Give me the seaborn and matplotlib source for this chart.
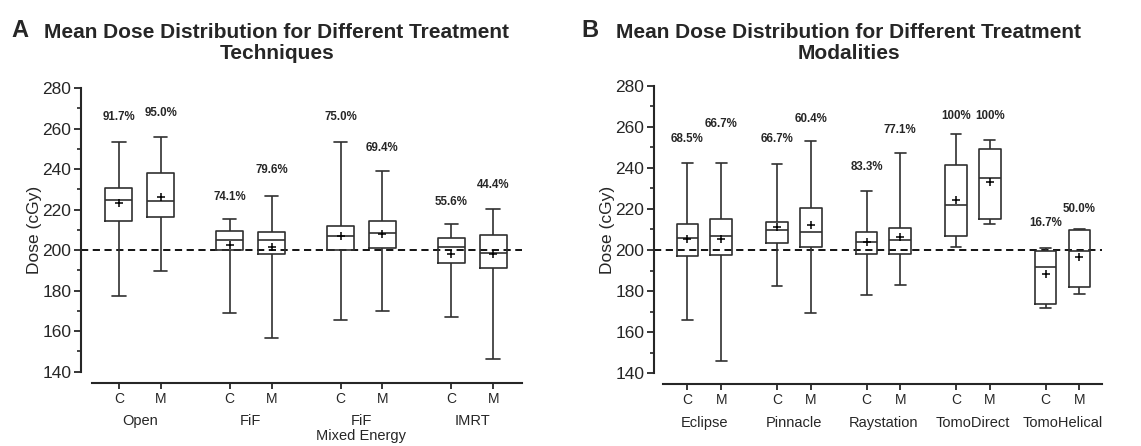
import numpy as np
import pandas as pd
import matplotlib
matplotlib.use("Agg")
import matplotlib.pyplot as plt
import seaborn as sns
from matplotlib.ticker import MultipleLocator

# ---------------- data ----------------
members = ["C", "M"]

a_groups = ["Open", "FiF", "FiF\nMixed Energy", "IMRT"]
a_min = [177.4, 189.6, 169.2, 156.6, 165.7, 169.8, 167.2, 146.1]
a_q1 = [214.2, 216.3, 200.0, 198.2, 200.0, 200.8, 193.7, 191.1]
a_med = [224.9, 224.1, 205.0, 204.9, 206.8, 208.2, 201.5, 198.8]
a_q3 = [230.7, 238.2, 209.5, 209.0, 211.9, 214.3, 205.9, 207.6]
a_max = [253.4, 256.0, 215.2, 226.9, 253.4, 238.9, 212.7, 220.4]
a_mean = [223.1, 226.1, 202.6, 201.7, 207.1, 208.0, 198.0, 198.1]
a_pct = ["91.7%", "95.0%", "74.1%", "79.6%", "75.0%", "69.4%", "55.6%", "44.4%"]
a_label_y = [265.9, 267.6, 226.4, 239.6, 265.6, 250.3, 223.9, 232.0]

b_groups = ["Eclipse", "Pinnacle", "Raystation", "TomoDirect", "TomoHelical"]
b_min = [166.0, 146.2, 182.5, 169.5, 178.0, 182.8, 201.3, 212.5, 171.8, 178.5]
b_q1 = [197.1, 197.6, 203.2, 201.6, 197.9, 197.9, 206.8, 214.9, 173.7, 182.2]
b_med = [205.8, 206.6, 209.6, 208.8, 204.0, 204.7, 221.9, 235.2, 191.6, 199.7]
b_q3 = [212.6, 215.1, 213.6, 220.6, 208.6, 210.7, 241.3, 249.0, 199.7, 209.6]
b_max = [242.5, 242.5, 242.0, 253.0, 228.7, 247.3, 256.3, 253.5, 201.1, 210.4]
b_mean = [205.2, 205.2, 211.0, 212.3, 204.0, 206.2, 224.5, 233.2, 188.3, 196.7]
b_pct = ["68.5%", "66.7%", "66.7%", "60.4%", "83.3%", "77.1%", "100%", "100%", "16.7%", "50.0%"]
b_label_y = [254.0, 261.1, 254.0, 263.6, 240.5, 258.4, 265.3, 265.3, 213.0, 219.9]

reference_dose = 200
title_a = "Mean Dose Distribution for Different Treatment\nTechniques"
title_b = "Mean Dose Distribution for Different Treatment\nModalities"

# ---------------- style ----------------
sns.set_style("ticks")
plt.rcParams["font.family"] = ["Liberation Sans", "DejaVu Sans"]
plt.rcParams["axes.linewidth"] = 1.5

GAP = 2.65
LINE = "#303030"

fig = plt.figure(figsize=(11.41, 4.46), dpi=100)
ax_a = fig.add_axes([0.0710, 0.1666, 0.3865, 0.6361])
ax_b = fig.add_axes([0.5732, 0.1630, 0.3926, 0.6451])


def draw_panel(ax, groups, mn, q1, med, q3, mx, mean, pct, label_y, left_pad, right_pad):
    n = len(groups)
    pos = [g * GAP + j for g in range(n) for j in range(2)]
    rows = []
    for i, p in enumerate(pos):
        for v in (mn[i], q1[i], med[i], q3[i], mx[i]):
            rows.append({"pos": p, "dose": v})
    df = pd.DataFrame(rows)
    ax.axhline(reference_dose, color="black", lw=1.3, ls=(0, (4, 2.5)), zorder=1)
    sns.boxplot(data=df, x="pos", y="dose", native_scale=True, width=0.64,
                whis=(0, 100), fill=False, color=LINE, linewidth=1.2,
                ax=ax, zorder=3)
    sns.scatterplot(x=pos, y=mean, marker="+", s=28, color="black",
                    linewidth=1.1, ax=ax, zorder=4, legend=False)
    for p, t, yv in zip(pos, pct, label_y):
        ax.text(p, yv, t, ha="center", va="center", fontsize=8.3, fontweight="bold")

    ax.set_ylim(140, 280)
    ax.set_xlim(-left_pad, (n - 1) * GAP + 1 + right_pad)
    ax.yaxis.set_major_locator(MultipleLocator(20))
    ax.yaxis.set_minor_locator(MultipleLocator(10))
    ax.set_xticks(pos)
    ax.set_xticklabels([members[j] for g in range(n) for j in range(2)], fontsize=10)
    ax.tick_params(axis="y", labelsize=12.5, length=5, width=1.3, pad=2)
    ax.tick_params(axis="y", which="minor", length=3, width=1.2)
    ax.tick_params(axis="x", length=4, width=1.3, pad=2.5)
    ax.set_xlabel("")
    ax.set_ylabel("Dose (cGy)", fontsize=12.5, labelpad=0)
    sns.despine(ax=ax)
    ax.spines["bottom"].set_position(("outward", 8))
    ax.spines["bottom"].set_bounds(-left_pad + 0.27, (n - 1) * GAP + 1 + right_pad)
    for g, name in enumerate(groups):
        ax.annotate(name, xy=(g * GAP + 0.5, 0), xycoords=("data", "axes fraction"),
                    xytext=(0, -30.5), textcoords="offset points",
                    ha="center", va="top", fontsize=10.5, linespacing=1.05)


draw_panel(ax_a, a_groups, a_min, a_q1, a_med, a_q3, a_max, a_mean, a_pct, a_label_y, 0.905, 0.69)
draw_panel(ax_b, b_groups, b_min, b_q1, b_med, b_q3, b_max, b_mean, b_pct, b_label_y, 0.99, 0.67)

fig.text(277 / 1141, 1 - 23 / 446, title_a, ha="center", va="top", fontsize=15,
         fontweight="bold", linespacing=1.12, multialignment="center")
fig.text(849 / 1141, 1 - 23 / 446, title_b, ha="center", va="top", fontsize=15,
         fontweight="bold", linespacing=1.12, multialignment="center")
fig.text(11 / 1141, 1 - 19 / 446, "A", ha="left", va="top", fontsize=17, fontweight="bold")
fig.text(581 / 1141, 1 - 19 / 446, "B", ha="left", va="top", fontsize=17, fontweight="bold")

fig.savefig("out.png", dpi=100)
